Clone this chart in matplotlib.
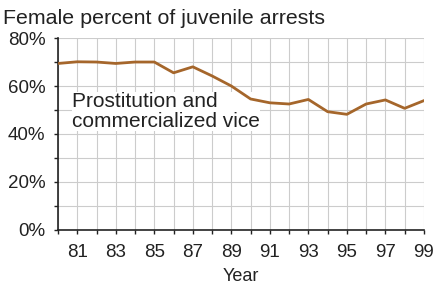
import numpy as np
import matplotlib
matplotlib.use('Agg')
import matplotlib.pyplot as plt
from matplotlib.ticker import MultipleLocator, FuncFormatter

plt.rcParams['font.family'] = ['Liberation Sans', 'DejaVu Sans']

years = list(range(1980, 2000))
female_pct = [69.4, 70.1, 70.0, 69.4, 70.0, 70.0, 65.5, 68.0, 64.2, 60.0,
              54.6, 53.0, 52.5, 54.4, 49.3, 48.2, 52.5, 54.2, 50.7, 53.9]

fig = plt.figure(figsize=(4.33, 2.86), dpi=100)
ax = fig.add_axes([0.134, 0.196, 0.845, 0.671])

ax.plot(years, female_pct, color='#a5662b', lw=2, zorder=3)

ax.set_xlim(1980, 1999)
ax.set_ylim(0, 80)
ax.yaxis.set_major_locator(MultipleLocator(20))
ax.yaxis.set_minor_locator(MultipleLocator(10))
ax.yaxis.set_major_formatter(FuncFormatter(lambda v, p: f'{int(v)}%'))
ax.set_xticks(years)
ax.set_xticklabels(['' if y % 2 == 0 else str(y)[2:] for y in years])

ax.grid(True, which='both', color='#cccccc', lw=0.8)
ax.tick_params(axis='both', which='both', direction='out', length=3, width=1,
               labelsize=13.5, colors='#222222')
ax.tick_params(axis='x', pad=7)
ax.tick_params(axis='y', pad=6)
for s in ['top', 'right']:
    ax.spines[s].set_visible(False)
for s in ['left', 'bottom']:
    ax.spines[s].set_linewidth(1.2)
    ax.spines[s].set_color('#222222')

ax.set_xlabel('Year', fontsize=13, color='#222222', labelpad=5)
fig.text(0.008, 0.915, 'Female percent of juvenile arrests', fontsize=15.4,
         color='#222222')
ax.text(1980.75, 49.5, 'Prostitution and\ncommercialized vice', fontsize=15,
        color='#222222', va='center', linespacing=1.05, zorder=2.5,
        bbox=dict(facecolor='white', edgecolor='none', pad=0))

fig.savefig('out.png', dpi=100)
